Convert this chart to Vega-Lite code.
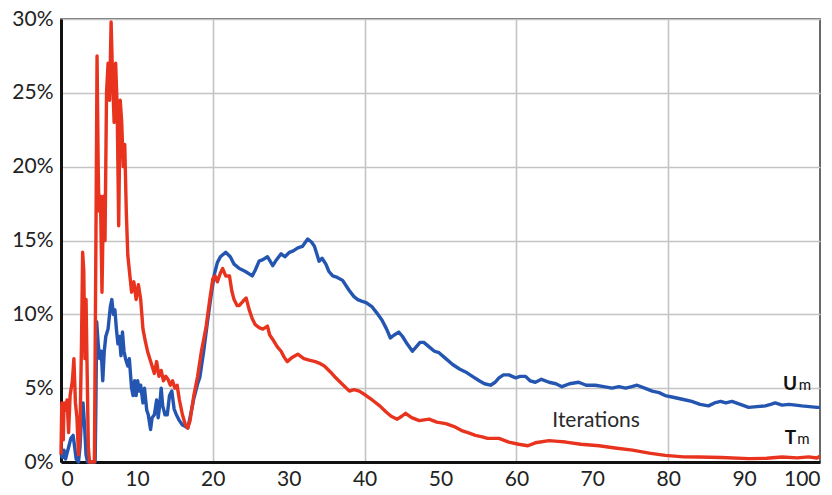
{
  "$schema": "https://vega.github.io/schema/vega-lite/v6.json",
  "autosize": "none",
  "padding": {"left": 61, "top": 19, "right": 12, "bottom": 33},
  "width": 759,
  "height": 443,
  "background": "white",
  "config": {
    "view": {"stroke": "#444", "strokeWidth": 1.6},
    "axis": {
      "labelFont": "Lato",
      "labelFontSize": 21,
      "labelColor": "#222",
      "ticks": false,
      "domainColor": "#111",
      "domainWidth": 3,
      "gridColor": "#c4c4c4",
      "gridWidth": 1.6,
      "title": null
    }
  },
  "datasets": {
    "um": [
      {"x":0.0,"y":0.5},{"x":0.2,"y":0.3},{"x":0.4,"y":0.8},{"x":0.6,"y":0.2},{"x":0.8,"y":0.6},{"x":1.0,"y":1.0},{"x":1.3,"y":1.6},{"x":1.6,"y":1.8},{"x":1.8,"y":1.0},{"x":2.0,"y":0.2},{"x":2.3,"y":0.0},{"x":2.5,"y":1.0},{"x":2.7,"y":3.0},{"x":2.9,"y":4.0},{"x":3.1,"y":2.5},{"x":3.3,"y":0.5},{"x":3.5,"y":0.0},{"x":4.5,"y":0.0},{"x":4.6,"y":4.0},{"x":4.7,"y":9.5},{"x":4.9,"y":8.0},{"x":5.1,"y":7.0},{"x":5.3,"y":7.5},{"x":5.5,"y":5.5},{"x":5.7,"y":7.5},{"x":5.9,"y":8.5},{"x":6.2,"y":9.0},{"x":6.5,"y":10.5},{"x":6.7,"y":11.0},{"x":6.9,"y":10.0},{"x":7.1,"y":10.3},{"x":7.3,"y":9.0},{"x":7.5,"y":8.0},{"x":7.7,"y":8.5},{"x":7.9,"y":7.2},{"x":8.1,"y":8.8},{"x":8.3,"y":7.5},{"x":8.5,"y":7.0},{"x":8.8,"y":6.5},{"x":9.0,"y":7.0},{"x":9.3,"y":5.0},{"x":9.5,"y":4.5},{"x":9.7,"y":5.5},{"x":9.9,"y":4.5},{"x":10.1,"y":5.5},{"x":10.3,"y":4.8},{"x":10.5,"y":5.2},{"x":10.8,"y":4.0},{"x":11.0,"y":5.0},{"x":11.3,"y":3.5},{"x":11.5,"y":3.2},{"x":11.8,"y":2.2},{"x":12.0,"y":3.0},{"x":12.3,"y":3.2},{"x":12.6,"y":4.2},{"x":12.8,"y":3.0},{"x":13.0,"y":3.8},{"x":13.2,"y":5.0},{"x":13.4,"y":3.8},{"x":13.7,"y":3.2},{"x":14.0,"y":3.2},{"x":14.3,"y":4.5},{"x":14.6,"y":4.8},{"x":14.9,"y":3.6},{"x":15.2,"y":3.2},{"x":15.6,"y":2.8},{"x":16.0,"y":2.5},{"x":16.4,"y":2.4},{"x":16.7,"y":2.3},{"x":17.0,"y":3.0},{"x":17.5,"y":4.3},{"x":18.0,"y":5.3},{"x":18.3,"y":5.75},{"x":18.8,"y":7.5},{"x":19.3,"y":9.5},{"x":19.7,"y":11.0},{"x":20.2,"y":12.7},{"x":20.6,"y":13.5},{"x":21.0,"y":13.9},{"x":21.7,"y":14.2},{"x":22.3,"y":13.9},{"x":22.8,"y":13.4},{"x":23.5,"y":13.1},{"x":24.3,"y":12.9},{"x":25.2,"y":12.6},{"x":25.6,"y":13.0},{"x":26.1,"y":13.6},{"x":26.6,"y":13.7},{"x":27.2,"y":13.9},{"x":27.9,"y":13.3},{"x":28.4,"y":13.7},{"x":29.0,"y":14.1},{"x":29.5,"y":13.9},{"x":30.1,"y":14.2},{"x":30.6,"y":14.3},{"x":31.2,"y":14.5},{"x":31.8,"y":14.6},{"x":32.5,"y":15.1},{"x":33.0,"y":14.9},{"x":33.4,"y":14.6},{"x":34.0,"y":13.6},{"x":34.4,"y":13.8},{"x":34.9,"y":13.4},{"x":35.3,"y":12.9},{"x":35.8,"y":12.6},{"x":36.4,"y":12.5},{"x":37.1,"y":12.3},{"x":38.0,"y":11.6},{"x":38.6,"y":11.2},{"x":39.1,"y":11.0},{"x":39.6,"y":10.9},{"x":40.2,"y":10.8},{"x":41.0,"y":10.5},{"x":41.6,"y":10.1},{"x":42.3,"y":9.6},{"x":42.9,"y":9.0},{"x":43.4,"y":8.4},{"x":43.9,"y":8.6},{"x":44.5,"y":8.8},{"x":45.0,"y":8.5},{"x":45.6,"y":8.0},{"x":46.3,"y":7.5},{"x":46.8,"y":7.8},{"x":47.3,"y":8.1},{"x":47.8,"y":8.1},{"x":48.5,"y":7.8},{"x":49.2,"y":7.5},{"x":49.8,"y":7.4},{"x":50.7,"y":7.0},{"x":51.6,"y":6.6},{"x":52.5,"y":6.3},{"x":53.3,"y":6.1},{"x":54.2,"y":5.8},{"x":55.1,"y":5.5},{"x":55.8,"y":5.3},{"x":56.6,"y":5.2},{"x":57.2,"y":5.4},{"x":57.7,"y":5.7},{"x":58.3,"y":5.9},{"x":59.0,"y":5.9},{"x":59.9,"y":5.7},{"x":60.5,"y":5.8},{"x":61.2,"y":5.8},{"x":61.8,"y":5.5},{"x":62.5,"y":5.4},{"x":63.3,"y":5.6},{"x":64.3,"y":5.4},{"x":65.2,"y":5.3},{"x":66.0,"y":5.1},{"x":67.0,"y":5.3},{"x":68.2,"y":5.4},{"x":69.2,"y":5.2},{"x":70.4,"y":5.2},{"x":71.5,"y":5.1},{"x":72.6,"y":5.0},{"x":73.5,"y":5.1},{"x":74.4,"y":5.0},{"x":75.2,"y":5.1},{"x":75.9,"y":5.2},{"x":76.9,"y":5.0},{"x":77.9,"y":4.8},{"x":78.8,"y":4.7},{"x":79.6,"y":4.5},{"x":80.5,"y":4.4},{"x":81.4,"y":4.3},{"x":82.3,"y":4.2},{"x":83.1,"y":4.1},{"x":84.2,"y":3.9},{"x":85.3,"y":3.8},{"x":86.1,"y":4.0},{"x":86.9,"y":4.1},{"x":87.6,"y":4.0},{"x":88.4,"y":4.1},{"x":89.5,"y":3.9},{"x":90.6,"y":3.7},{"x":91.7,"y":3.75},{"x":92.8,"y":3.8},{"x":93.5,"y":3.9},{"x":94.1,"y":4.0},{"x":95.0,"y":3.85},{"x":95.9,"y":3.9},{"x":96.8,"y":3.85},{"x":97.6,"y":3.8},{"x":98.6,"y":3.75},{"x":99.6,"y":3.7},{"x":100,"y":3.7}
    ],
    "tm": [
      {"x":0.0,"y":0.5},{"x":0.1,"y":4.0},{"x":0.3,"y":1.5},{"x":0.4,"y":4.0},{"x":0.6,"y":3.5},{"x":0.8,"y":4.2},{"x":1.0,"y":2.0},{"x":1.2,"y":4.5},{"x":1.5,"y":5.5},{"x":1.7,"y":7.0},{"x":1.9,"y":4.0},{"x":2.1,"y":3.0},{"x":2.3,"y":0.5},{"x":2.5,"y":2.0},{"x":2.7,"y":8.0},{"x":2.85,"y":14.2},{"x":3.0,"y":13.0},{"x":3.15,"y":7.0},{"x":3.3,"y":11.0},{"x":3.45,"y":6.0},{"x":3.6,"y":1.0},{"x":3.75,"y":0.0},{"x":4.4,"y":0.0},{"x":4.6,"y":15.0},{"x":4.75,"y":27.5},{"x":4.9,"y":20.0},{"x":5.0,"y":17.0},{"x":5.2,"y":18.0},{"x":5.4,"y":11.5},{"x":5.6,"y":18.0},{"x":5.8,"y":15.0},{"x":6.0,"y":25.0},{"x":6.2,"y":27.0},{"x":6.4,"y":24.5},{"x":6.6,"y":29.8},{"x":6.8,"y":26.0},{"x":7.0,"y":23.0},{"x":7.2,"y":27.0},{"x":7.4,"y":24.0},{"x":7.6,"y":16.0},{"x":7.8,"y":24.5},{"x":8.0,"y":23.0},{"x":8.2,"y":20.0},{"x":8.4,"y":21.5},{"x":8.6,"y":17.0},{"x":8.8,"y":14.0},{"x":9.0,"y":13.0},{"x":9.3,"y":11.5},{"x":9.6,"y":12.2},{"x":9.9,"y":11.0},{"x":10.2,"y":12.0},{"x":10.5,"y":11.0},{"x":10.8,"y":9.0},{"x":11.1,"y":8.2},{"x":11.4,"y":7.5},{"x":11.7,"y":7.0},{"x":12.0,"y":6.5},{"x":12.3,"y":6.0},{"x":12.6,"y":6.8},{"x":12.9,"y":5.8},{"x":13.2,"y":6.2},{"x":13.5,"y":5.5},{"x":13.8,"y":5.8},{"x":14.1,"y":5.6},{"x":14.4,"y":5.2},{"x":14.7,"y":5.5},{"x":15.0,"y":5.0},{"x":15.3,"y":5.2},{"x":15.6,"y":4.2},{"x":16.0,"y":3.2},{"x":16.4,"y":2.5},{"x":16.7,"y":2.3},{"x":17.0,"y":2.8},{"x":17.5,"y":4.5},{"x":18.0,"y":5.8},{"x":18.5,"y":7.5},{"x":19.1,"y":9.1},{"x":19.6,"y":11.0},{"x":20.0,"y":12.4},{"x":20.3,"y":12.6},{"x":20.6,"y":12.2},{"x":21.0,"y":12.8},{"x":21.3,"y":13.1},{"x":21.7,"y":12.6},{"x":22.2,"y":12.6},{"x":22.5,"y":11.6},{"x":22.8,"y":11.0},{"x":23.2,"y":10.6},{"x":23.5,"y":10.6},{"x":24.0,"y":10.9},{"x":24.4,"y":11.1},{"x":24.8,"y":10.3},{"x":25.2,"y":9.7},{"x":25.6,"y":9.3},{"x":26.1,"y":9.1},{"x":26.6,"y":9.0},{"x":27.2,"y":9.2},{"x":27.5,"y":8.6},{"x":27.9,"y":8.3},{"x":28.5,"y":7.8},{"x":29.0,"y":7.5},{"x":29.4,"y":7.1},{"x":29.8,"y":6.8},{"x":30.5,"y":7.1},{"x":31.2,"y":7.3},{"x":32.0,"y":7.0},{"x":32.7,"y":6.9},{"x":33.5,"y":6.8},{"x":34.0,"y":6.7},{"x":34.7,"y":6.5},{"x":35.5,"y":6.1},{"x":36.2,"y":5.7},{"x":37.0,"y":5.3},{"x":38.0,"y":4.8},{"x":38.6,"y":4.9},{"x":39.3,"y":4.8},{"x":40.2,"y":4.5},{"x":41.0,"y":4.2},{"x":42.0,"y":3.8},{"x":42.8,"y":3.4},{"x":43.5,"y":3.1},{"x":44.3,"y":2.9},{"x":44.9,"y":3.1},{"x":45.4,"y":3.3},{"x":46.2,"y":3.0},{"x":47.2,"y":2.8},{"x":48.5,"y":2.9},{"x":49.5,"y":2.7},{"x":50.7,"y":2.6},{"x":51.8,"y":2.4},{"x":52.9,"y":2.1},{"x":53.8,"y":1.95},{"x":54.6,"y":1.8},{"x":55.5,"y":1.7},{"x":56.2,"y":1.6},{"x":57.7,"y":1.6},{"x":59.0,"y":1.35},{"x":60.3,"y":1.2},{"x":61.5,"y":1.1},{"x":62.5,"y":1.3},{"x":64.3,"y":1.45},{"x":65.5,"y":1.4},{"x":66.5,"y":1.35},{"x":68.5,"y":1.2},{"x":70.9,"y":1.1},{"x":73.0,"y":0.95},{"x":75.3,"y":0.8},{"x":77.5,"y":0.6},{"x":79.6,"y":0.45},{"x":82.0,"y":0.35},{"x":84.0,"y":0.34},{"x":87.0,"y":0.3},{"x":90.6,"y":0.23},{"x":93.0,"y":0.25},{"x":95.0,"y":0.34},{"x":97.0,"y":0.28},{"x":98.5,"y":0.35},{"x":99.6,"y":0.27},{"x":100,"y":0.4}
    ]
  },
  "encoding": {
    "x": {
      "field": "x", "type": "quantitative",
      "scale": {"domain": [0, 100], "nice": false},
      "axis": {
        "values": [0,10,20,30,40,50,60,70,80,90,100],
        "labelPadding": 6,
        "grid": true,
        "gridOpacity": {"condition": {"test": "datum.value % 20 === 0 && datum.value > 0 && datum.value < 100", "value": 1}, "value": 0}
      }
    },
    "y": {
      "field": "y", "type": "quantitative",
      "scale": {"domain": [0, 30], "nice": false},
      "axis": {
        "values": [0,5,10,15,20,25,30],
        "labelExpr": "datum.value + '%'",
        "labelPadding": 8,
        "grid": true
      }
    }
  },
  "layer": [
    {"data": {"name": "um"}, "mark": {"type": "line", "color": "#2455b0", "strokeWidth": 3.4, "strokeJoin": "round"}},
    {"data": {"name": "tm"}, "mark": {"type": "line", "color": "#e8341f", "strokeWidth": 3.4, "strokeJoin": "round"}},
    {
      "data": {"values": [{"x": 70.5, "y": 2.36, "label": "Iterations"}]},
      "mark": {"type": "text", "font": "Lato", "fontSize": 21, "color": "#2a2a2a", "align": "center", "baseline": "alphabetic"},
      "encoding": {"text": {"field": "label"}}
    },
    {
      "data": {"values": [{"x": 96.05, "y": 4.85, "label": "U"}, {"x": 96.1, "y": 1.24, "label": "T"}]},
      "mark": {"type": "text", "font": "Lato", "fontSize": 19, "fontWeight": "bold", "color": "#111", "align": "center", "baseline": "alphabetic"},
      "encoding": {"text": {"field": "label"}}
    },
    {
      "data": {"values": [{"x": 98.0, "y": 4.85, "label": "m"}, {"x": 97.8, "y": 1.24, "label": "m"}]},
      "mark": {"type": "text", "font": "Lato", "fontSize": 15, "color": "#111", "align": "center", "baseline": "alphabetic"},
      "encoding": {"text": {"field": "label"}}
    }
  ]
}
